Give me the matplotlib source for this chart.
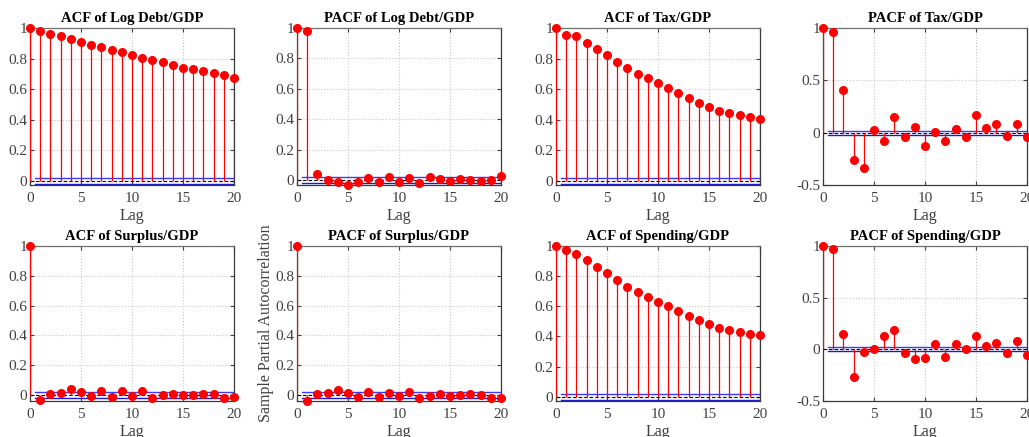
import matplotlib
matplotlib.use("Agg")
import matplotlib.pyplot as plt
import numpy as np

plt.rcParams['font.family'] = ['Liberation Serif', 'DejaVu Serif']
plt.rcParams['font.size'] = 10

lags = np.arange(21)
bound = 0.02

acf_debt = [1, 0.978, 0.963, 0.945, 0.928, 0.907, 0.891, 0.873, 0.856, 0.84, 0.822,
            0.806, 0.79, 0.775, 0.76, 0.741, 0.731, 0.717, 0.703, 0.69, 0.674]
pacf_debt = [1, 0.978, 0.04, -0.003, -0.01, -0.03, -0.012, 0.01, -0.015, 0.018, -0.015,
             0.01, -0.022, 0.02, 0.005, -0.005, 0.007, 0.0, -0.008, 0.0, 0.025]
acf_tax = [1, 0.952, 0.946, 0.902, 0.863, 0.822, 0.778, 0.739, 0.698, 0.67, 0.637,
           0.607, 0.572, 0.541, 0.507, 0.485, 0.457, 0.441, 0.428, 0.417, 0.407]
pacf_tax = [1, 0.958, 0.41, -0.264, -0.338, 0.026, -0.08, 0.145, -0.045, 0.055, -0.125,
            0.006, -0.077, 0.032, -0.039, 0.167, 0.042, 0.084, -0.035, 0.084, -0.039]
acf_surplus = [1, -0.036, 0.009, 0.016, 0.038, 0.018, -0.007, 0.024, -0.011, 0.024, -0.004,
               0.027, -0.018, 0.0, 0.009, -0.002, 0.002, 0.009, 0.004, -0.018, -0.013]
pacf_surplus = [1, -0.038, 0.007, 0.014, 0.034, 0.014, -0.01, 0.02, -0.015, 0.016, -0.009,
                0.02, -0.022, -0.006, 0.006, -0.006, -0.002, 0.006, 0.0, -0.022, -0.018]
acf_spending = [1, 0.972, 0.95, 0.91, 0.862, 0.819, 0.773, 0.731, 0.692, 0.662, 0.631,
                0.6, 0.568, 0.537, 0.507, 0.48, 0.456, 0.441, 0.428, 0.417, 0.408]
pacf_spending = [1, 0.971, 0.148, -0.264, -0.026, 0.006, 0.125, 0.183, -0.039, -0.093, -0.084,
                 0.048, -0.077, 0.051, 0.0, 0.129, 0.032, 0.058, -0.035, 0.084, -0.055]

panels = [
    ("ACF of Log Debt/GDP", acf_debt, (-0.028, 1)),
    ("PACF of Log Debt/GDP", pacf_debt, (-0.033, 1)),
    ("ACF of Tax/GDP", acf_tax, (-0.028, 1)),
    ("PACF of Tax/GDP", pacf_tax, (-0.5, 1)),
    ("ACF of Surplus/GDP", acf_surplus, (-0.04, 1)),
    ("PACF of Surplus/GDP", pacf_surplus, (-0.04, 1)),
    ("ACF of Spending/GDP", acf_spending, (-0.028, 1)),
    ("PACF of Spending/GDP", pacf_spending, (-0.5, 1)),
]

W, H = 1029, 437
fig = plt.figure(figsize=(W / 100, H / 100), dpi=100)

lefts = [30, 297, 556, 823]
rows = [(28, 185), (246, 401)]

for i, (title, vals, ylim) in enumerate(panels):
    r, c = divmod(i, 4)
    top, bot = rows[r]
    ax = fig.add_axes([lefts[c] / W, (H - bot) / H, 204 / W, (bot - top) / H])
    ax.vlines(lags, 0, vals, color='red', lw=0.9, zorder=3)
    ax.plot(lags, vals, 'o', color='red', ms=5.5, zorder=4, clip_on=False)
    ax.axhline(0, color='black', ls='--', lw=0.8, dashes=(3, 2), zorder=2)
    # confidence bounds
    ax.plot([0.5, 20], [bound, bound], color='#3a3aff', lw=1.0, zorder=2)
    ax.plot([0.5, 20], [-bound, -bound], color='#1a1ad0', lw=1.0, zorder=2)
    ax.set_xlim(0, 20)
    ax.set_ylim(*ylim)
    ax.set_xticks([0, 5, 10, 15, 20])
    if ylim[0] == -0.5:
        ax.set_yticks([-0.5, 0, 0.5, 1])
        ax.set_yticklabels(['-0.5', '0', '0.5', '1'])
    else:
        ax.set_yticks([0, 0.2, 0.4, 0.6, 0.8, 1])
        ax.set_yticklabels(['0', '0.2', '0.4', '0.6', '0.8', '1'])
    ax.grid(True, ls=':', color='#c8c8c8', lw=0.8)
    ax.set_axisbelow(True)
    ax.tick_params(direction='in', length=3, labelsize=11, colors='#404040',
                   top=True, right=True)
    ax.tick_params(axis='x', pad=5)
    ax.tick_params(axis='y', pad=2)
    for s in ax.spines.values():
        s.set_color('#3a3a3a')
        s.set_linewidth(0.9)
    ax.spines['top'].set_color('#707070')
    ax.set_title(title, fontsize=10.5, fontweight='bold', pad=4)
    ax.set_xlabel('Lag', fontsize=11.5, color='#404040', labelpad=2)
    if i == 5:
        ax.set_ylabel('Sample Partial Autocorrelation', fontsize=11.5, color='#404040', labelpad=1)

fig.savefig('out.png', dpi=100)
